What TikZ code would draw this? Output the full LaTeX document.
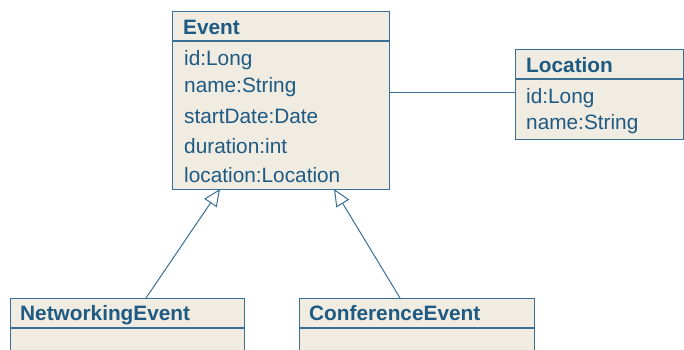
\documentclass[tikz,border=0pt]{standalone}
\usepackage{fontspec}
\setmainfont{Liberation Sans}
\usetikzlibrary{arrows.meta}
\definecolor{umlfill}{HTML}{F0ECE2}
\definecolor{umlline}{HTML}{3A6E94}
\definecolor{umltext}{HTML}{1E5A82}
\tikzset{
  classbox/.style={draw=umlline, fill=umlfill, line width=1.3pt, rectangle, inner sep=0pt, anchor=north west},
  sepline/.style={draw=umlline, line width=1.3pt},
  title/.style={anchor=base west, inner sep=0pt, text=umltext, font=\fontsize{20.8}{24}\selectfont\bfseries},
  attr/.style={anchor=base west, inner sep=0pt, text=umltext, font=\fontsize{20.8}{24}\selectfont},
  inherit/.style={draw=umlline, line width=1pt, -{Triangle[open, length=17pt, width=15pt, line width=1pt]}},
  assoc/.style={draw=umlline, line width=1pt},
}
\begin{document}
\begin{tikzpicture}[x=1pt, y=-1pt]
\useasboundingbox (0,0) rectangle (684,349);
\clip (0,0) rectangle (684,349);
% Event
\node[classbox, minimum width=217pt, minimum height=178pt] (event) at (172,11) {};
\draw[sepline] (172,41) -- (389,41);
\node[title] (evt) at (183,34) {Event};
\node[attr] (e1) at (184,65) {id:Long};
\node[attr] (e2) at (184,92) {name:String};
\node[attr] (e3) at (184,123) {startDate:Date};
\node[attr] (e4) at (184,153) {duration:int};
\node[attr] (e5) at (184,182) {location:Location};
% Location
\node[classbox, minimum width=168pt, minimum height=90pt] (loc) at (515,49) {};
\draw[sepline] (515,79) -- (683,79);
\node[title] (lt) at (526,72) {Location};
\node[attr] (l1) at (526,103) {id:Long};
\node[attr] (l2) at (526,129) {name:String};
% NetworkingEvent
\node[classbox, minimum width=234pt, minimum height=80pt] (net) at (10,298) {};
\draw[sepline] (10,328) -- (244,328);
\node[title] (nt) at (20,320) {NetworkingEvent};
% ConferenceEvent
\node[classbox, minimum width=235pt, minimum height=80pt] (conf) at (299,298) {};
\draw[sepline] (299,328) -- (534,328);
\node[title] (ct) at (309,320) {ConferenceEvent};
% connectors
\coordinate (evA) at (220,189);
\coordinate (evB) at (334,189);
\coordinate (netTop) at (146,298);
\coordinate (confTop) at (400,298);
\coordinate (evR) at (389,92);
\coordinate (locL) at (515,92);
\draw[inherit] (netTop) -- (evA);
\draw[inherit] (confTop) -- (evB);
\draw[assoc] (evR) -- (locL);
\end{tikzpicture}
\end{document}
